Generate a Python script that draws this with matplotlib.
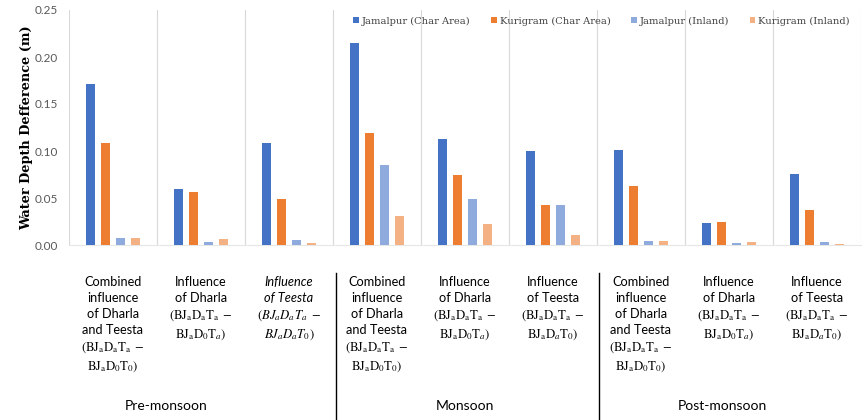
import numpy as np
import matplotlib
matplotlib.use("Agg")
import matplotlib.pyplot as plt
from matplotlib.lines import Line2D
import matplotlib.transforms as mtransforms

plt.rcParams['mathtext.fontset'] = 'stix'

series_names = ['Jamalpur (Char Area)', 'Kurigram (Char Area)',
                'Jamalpur (Inland)', 'Kurigram (Inland)']
colors = ['#4472C4', '#ED7D31', '#8FAADC', '#F4B183']

# three scenarios per season: combined, Dharla, Teesta
jamalpur_char = [0.171, 0.060, 0.109, 0.215, 0.113, 0.100, 0.101, 0.023, 0.076]
kurigram_char = [0.108, 0.056, 0.049, 0.119, 0.074, 0.043, 0.063, 0.025, 0.037]
jamalpur_inland = [0.007, 0.003, 0.005, 0.085, 0.049, 0.043, 0.0045, 0.002, 0.003]
kurigram_inland = [0.007, 0.006, 0.002, 0.031, 0.022, 0.011, 0.004, 0.003, 0.0015]

combined_lbl = ("Combined\ninfluence\nof Dharla\nand Teesta\n"
                r"$(\mathrm{BJ_aD_aT_a}\ -$" "\n" r"$\mathrm{BJ_aD_0T_0})$")
dharla_lbl = ("Influence\nof Dharla\n"
              r"$(\mathrm{BJ_aD_aT_a}\ -$" "\n" r"$\mathrm{BJ_aD_0T}_a)$")
teesta_lbl = ("Influence\nof Teesta\n"
              r"$(\mathrm{BJ_aD_aT_a}\ -$" "\n" r"$\mathrm{BJ_aD}_a\mathrm{T_0})$")
teesta_lbl_it = ("Influence\nof Teesta\n"
                 r"$(BJ_aD_aT_a\ -$" "\n" r"$BJ_aD_aT_0)$")
category_labels = [combined_lbl, dharla_lbl, teesta_lbl_it,
                   combined_lbl, dharla_lbl, teesta_lbl,
                   combined_lbl, dharla_lbl, teesta_lbl]
seasons = ['Pre-monsoon', 'Monsoon', 'Post-monsoon']
season_x = [0.6, 4.0, 6.93]

data = [jamalpur_char, kurigram_char, jamalpur_inland, kurigram_inland]

fig = plt.figure(figsize=(8.65, 4.2), dpi=100)
ax = fig.add_axes([69 / 865, 1 - 245 / 420, 792 / 865, 235 / 420])

x = np.arange(len(jamalpur_char))
width = 0.095
step = 0.17
for i, (vals, c, name) in enumerate(zip(data, colors, series_names)):
    ax.bar(x + (i - 1.5) * step, vals, width, color=c, label=name, zorder=3)

ax.set_xlim(-0.5, len(x) - 0.5)
ax.set_ylim(0, 0.25)
ax.set_yticks(np.arange(0, 0.26, 0.05))
ax.set_yticklabels(['%.2f' % v for v in np.arange(0, 0.26, 0.05)],
                   family='Lato')
ax.tick_params(axis='y', length=0, pad=8, labelsize=8.5, labelcolor='#595959')
ax.tick_params(axis='x', length=0, labelbottom=False)
for s in ['top', 'right', 'left']:
    ax.spines[s].set_visible(False)
ax.spines['bottom'].set_color('#e6e6e6')

# light vertical separators between categories
for b in np.arange(-0.5, len(x), 1.0):
    ax.axvline(b, color='#d9d9d9', lw=0.8, zorder=1)

ax.set_ylabel('Water Depth Defference (m)', family='DejaVu Serif',
              fontweight='bold', fontsize=9.3)
ax.yaxis.set_label_coords(-0.045, 0.5)

leg = ax.legend(loc='upper right', ncol=4, frameon=False,
                bbox_to_anchor=(0.997, 1.01), handlelength=0.55,
                handleheight=0.55, handletextpad=0.3, columnspacing=2.1,
                prop={'family': 'DejaVu Serif', 'size': 7.1})
for t in leg.get_texts():
    t.set_color('#404040')

trans = mtransforms.blended_transform_factory(ax.transData, ax.transAxes)
for xi, lbl in zip(x, category_labels):
    ax.text(xi, -0.13, lbl, transform=trans, ha='center', va='top',
            multialignment='center', fontsize=9.2, family='Lato',
            linespacing=1.42, style='italic' if lbl is teesta_lbl_it else 'normal')

for sx, s in zip(season_x, seasons):
    ax.text(sx, -0.685, s, transform=trans, ha='center', va='center',
            fontsize=10, family='Lato')

for bx in [2.53, 5.52]:
    ax.add_line(Line2D([bx, bx], [-0.119, -0.75], transform=trans,
                       color='black', lw=1.0, clip_on=False))

fig.savefig('out.png', dpi=100)
